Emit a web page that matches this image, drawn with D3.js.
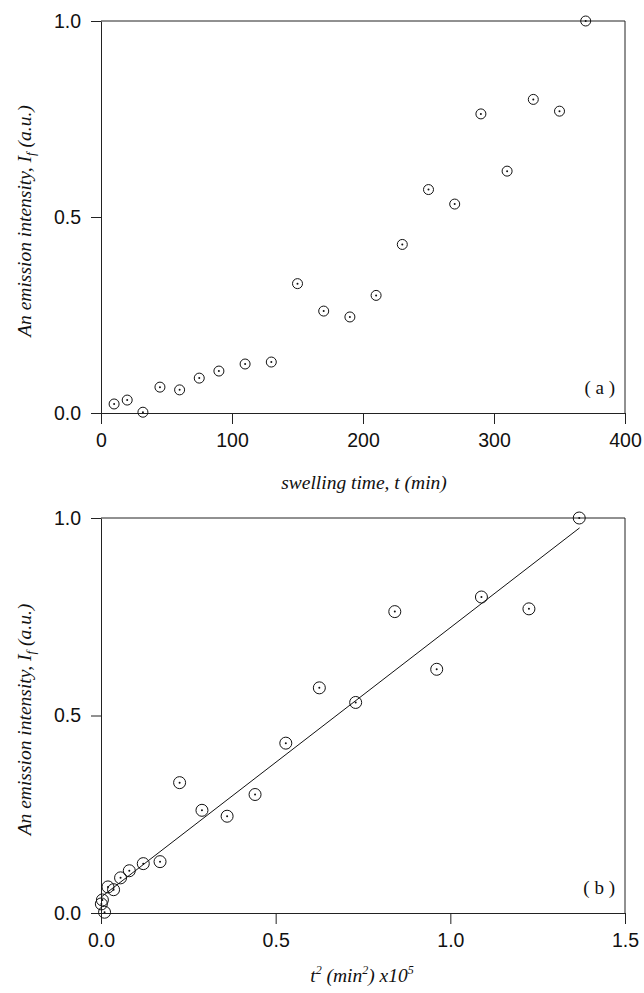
<!DOCTYPE html>
<html>
<head>
<meta charset="utf-8">
<script src="https://cdn.jsdelivr.net/npm/d3@7"></script>
<style>
  body { margin: 0; background: #fff; }
  svg { display: block; }
</style>
</head>
<body>
<script>
// swelling time (min) and emission intensity (a.u.)
const times = [10, 20, 32, 45, 60, 75, 90, 110, 130, 150, 170, 190, 210, 230, 250, 270, 290, 310, 330, 350, 370];
const intensity = [0.023, 0.033, 0.002, 0.066, 0.059, 0.089, 0.107, 0.125, 0.13, 0.33, 0.26, 0.245, 0.30, 0.43, 0.57, 0.533, 0.763, 0.617, 0.80, 0.77, 1.0];
// t^2 x 10^-5
const tSquared = [0.001, 0.004, 0.0102, 0.020, 0.036, 0.056, 0.081, 0.121, 0.169, 0.225, 0.289, 0.361, 0.441, 0.529, 0.625, 0.729, 0.841, 0.961, 1.089, 1.225, 1.369];
// fitted line end points (panel b)
const fitX = [0.0, 1.37];
const fitY = [0.04, 0.975];

const xTicksA = [0, 100, 200, 300, 400];
const xTicksB = [0, 0.5, 1.0, 1.5];
const yTicks = [0, 0.5, 1.0];

const SANS = '"Liberation Sans", Arimo, Arial, Helvetica, sans-serif';
const SERIF = '"Liberation Serif", Tinos, "Times New Roman", "DejaVu Serif", serif';

const svg = d3.select('body').append('svg')
    .attr('width', 644)
    .attr('height', 993);

function styleAxis(sel) {
    sel.selectAll('text')
        .style('font-family', SANS)
        .style('font-size', '19.5px')
        .attr('fill', '#111');
    sel.selectAll('line, path').attr('stroke', '#222');
}

function panel(opt) {
    const g = svg.append('g');
    const x = d3.scaleLinear().domain(opt.xDomain).range([101, 625]);
    const y = d3.scaleLinear().domain([0, 1]).range([opt.bottom, opt.top]);

    // frame top / right
    g.append('line').attr('x1', 101).attr('x2', 625).attr('y1', opt.top).attr('y2', opt.top)
        .attr('stroke', '#222');
    g.append('line').attr('x1', 625).attr('x2', 625).attr('y1', opt.top).attr('y2', opt.bottom)
        .attr('stroke', '#222');

    g.append('g')
        .attr('transform', `translate(0,${opt.bottom})`)
        .call(d3.axisBottom(x).tickValues(opt.xTicks).tickFormat(opt.xFormat)
            .tickSize(11).tickSizeOuter(0).tickPadding(9))
        .call(styleAxis);

    g.append('g')
        .attr('transform', 'translate(101,0)')
        .call(d3.axisLeft(y).tickValues(yTicks).tickFormat(d3.format('.1f'))
            .tickSize(10).tickSizeOuter(0).tickPadding(10))
        .call(styleAxis);

    if (opt.fit) {
        g.append('line')
            .attr('x1', x(fitX[0])).attr('y1', y(fitY[0]))
            .attr('x2', x(fitX[1])).attr('y2', y(fitY[1]))
            .attr('stroke', '#111').attr('stroke-width', 1);
    }

    const pts = g.append('g').selectAll('g')
        .data(opt.xs.map((d, i) => [d, intensity[i]]))
        .enter().append('g')
        .attr('transform', d => `translate(${x(d[0])},${y(d[1])})`);
    pts.append('circle').attr('r', opt.r).attr('fill', 'none').attr('stroke', '#111').attr('stroke-width', 1);
    pts.append('circle').attr('r', 1).attr('fill', '#111');

    // y label
    const yl = g.append('text')
        .style('font-family', SERIF).style('font-style', 'italic').style('font-size', '19.5px')
        .attr('fill', '#111')
        .attr('transform', `translate(31,${(opt.top + opt.bottom) / 2 + 4}) rotate(-90)`)
        .attr('text-anchor', 'middle');
    yl.append('tspan').text('An emission intensity, ');
    yl.append('tspan').text('I');
    yl.append('tspan').style('font-size', '13px').attr('dy', 4).text('f');
    yl.append('tspan').attr('dy', -4).text(' (a.u.)');

    g.append('text')
        .style('font-family', SERIF).style('font-size', '19px')
        .attr('fill', '#111')
        .attr('x', 615).attr('y', opt.bottom - 19)
        .attr('text-anchor', 'end')
        .text(opt.tag);
    return g;
}

panel({ xDomain: [0, 400], xTicks: xTicksA, xFormat: d3.format('d'), xs: times,
    top: 21, bottom: 413, r: 5, tag: '( a )', fit: false });
panel({ xDomain: [0, 1.5], xTicks: xTicksB, xFormat: d3.format('.1f'), xs: tSquared,
    top: 518, bottom: 913, r: 6, tag: '( b )', fit: true });

// x labels
svg.append('text')
    .style('font-family', SERIF).style('font-style', 'italic').style('font-size', '19.5px')
    .attr('fill', '#111')
    .attr('x', 364).attr('y', 489).attr('text-anchor', 'middle')
    .text('swelling time, t (min)');

const xl = svg.append('text')
    .style('font-family', SERIF).style('font-style', 'italic').style('font-size', '19.5px')
    .attr('fill', '#111')
    .attr('x', 362).attr('y', 982).attr('text-anchor', 'middle');
xl.append('tspan').text('t');
xl.append('tspan').style('font-size', '12px').attr('dy', -8).text('2');
xl.append('tspan').attr('dy', 8).text(' (min');
xl.append('tspan').style('font-size', '12px').attr('dy', -8).text('2');
xl.append('tspan').attr('dy', 8).text(') x10');
xl.append('tspan').style('font-size', '12px').attr('dy', -8).text('5');
</script>
</body>
</html>
